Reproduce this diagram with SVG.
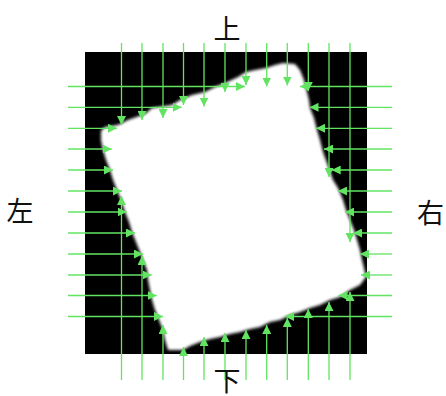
<svg xmlns="http://www.w3.org/2000/svg" width="446" height="396" viewBox="0 0 446 396">
<defs>
<style>
.g{stroke:#62e462;stroke-width:1.3;fill:none;marker-end:url(#ah)}
.lb{font-family:"Noto Sans CJK SC","Noto Sans CJK JP",sans-serif;font-size:27px;fill:#111;text-anchor:middle}
</style>
<marker id="ah" markerUnits="userSpaceOnUse" markerWidth="10" markerHeight="9" refX="9" refY="4.5" orient="auto" viewBox="0 0 10 9">
<path d="M0,0 L9,4.5 L0,9 z" fill="#62e462"/>
</marker>
<filter id="bl" x="-10%" y="-10%" width="120%" height="120%">
<feGaussianBlur stdDeviation="1.6"/>
</filter>
</defs>
<rect id="background" width="446" height="396" fill="#fff"/>
<rect id="black-square" x="85" y="52" width="282" height="302" fill="#000"/>
<g id="white-shape" filter="url(#bl)">
<polygon fill="#fff" points="101,131 105,127 118,125 128,120 145,114 152,108 172,105 180,100 192,95 205,92 215,87 225,83 238,77 246,72 255,70 266,68 275,65 283,63 295,64 300,70 304,80 306,88 309,100 310,108 314,118 317,130 320,140 323,152 327,163 333,180 338,188 343,200 346,210 350,220 354,230 357,240 360,250 362,260 364,268 366,277 360,285 350,290 340,297 330,300 320,305 310,308 300,312 290,315 280,320 270,322 260,327 250,329 240,332 230,334 220,337 210,339 200,342 190,346 183,350 168,350 165,340 163,330 159,320 155,310 152,300 150,290 148,280 147,270 143,260 140,252 136,242 132,232 129,222 125,212 121,200 117,190 113,180 110,170 106,160 103,150 101,140"/>
</g>
<g id="connectors">
<line class="g" x1="121.5" y1="43" x2="121.5" y2="125"/>
<line class="g" x1="121.5" y1="380" x2="121.5" y2="196"/>
<line class="g" x1="142" y1="43" x2="142" y2="120"/>
<line class="g" x1="142" y1="380" x2="142" y2="256"/>
<line class="g" x1="163" y1="43" x2="163" y2="118"/>
<line class="g" x1="163" y1="380" x2="163" y2="325"/>
<line class="g" x1="183.5" y1="43" x2="183.5" y2="105"/>
<line class="g" x1="183.5" y1="380" x2="183.5" y2="347"/>
<line class="g" x1="204" y1="43" x2="204" y2="106.5"/>
<line class="g" x1="204" y1="380" x2="204" y2="337"/>
<line class="g" x1="225" y1="43" x2="225" y2="92"/>
<line class="g" x1="225" y1="380" x2="225" y2="333"/>
<line class="g" x1="246" y1="43" x2="246" y2="85"/>
<line class="g" x1="246" y1="380" x2="246" y2="330"/>
<line class="g" x1="266.7" y1="43" x2="266.7" y2="86.5"/>
<line class="g" x1="266.7" y1="380" x2="266.7" y2="325"/>
<line class="g" x1="287.3" y1="43" x2="287.3" y2="85.5"/>
<line class="g" x1="287.3" y1="380" x2="287.3" y2="318"/>
<line class="g" x1="308.3" y1="43" x2="308.3" y2="91"/>
<line class="g" x1="308.3" y1="380" x2="308.3" y2="309"/>
<line class="g" x1="329" y1="43" x2="329" y2="177"/>
<line class="g" x1="329" y1="380" x2="329" y2="302"/>
<line class="g" x1="350" y1="43" x2="350" y2="242"/>
<line class="g" x1="350" y1="380" x2="350" y2="292"/>
<line class="g" x1="68" y1="86.5" x2="245" y2="86.5"/>
<line class="g" x1="392" y1="86.5" x2="300" y2="86.5"/>
<line class="g" x1="68" y1="107.3" x2="181.7" y2="107.3"/>
<line class="g" x1="392" y1="107.3" x2="309.5" y2="107.3"/>
<line class="g" x1="68" y1="128.3" x2="117" y2="128.3"/>
<line class="g" x1="392" y1="128.3" x2="316" y2="128.3"/>
<line class="g" x1="68" y1="149" x2="111.7" y2="149"/>
<line class="g" x1="392" y1="149" x2="324" y2="149"/>
<line class="g" x1="68" y1="170" x2="113" y2="170"/>
<line class="g" x1="392" y1="170" x2="331.7" y2="170"/>
<line class="g" x1="68" y1="191" x2="122" y2="191"/>
<line class="g" x1="392" y1="191" x2="338" y2="191"/>
<line class="g" x1="68" y1="212" x2="126.7" y2="212"/>
<line class="g" x1="392" y1="212" x2="345" y2="212"/>
<line class="g" x1="68" y1="233" x2="135" y2="233"/>
<line class="g" x1="392" y1="233" x2="353" y2="233"/>
<line class="g" x1="68" y1="254" x2="143" y2="254"/>
<line class="g" x1="392" y1="254" x2="360" y2="254"/>
<line class="g" x1="68" y1="275" x2="151.7" y2="275"/>
<line class="g" x1="392" y1="275" x2="361" y2="275"/>
<line class="g" x1="68" y1="295.5" x2="156.7" y2="295.5"/>
<line class="g" x1="392" y1="295.5" x2="338.5" y2="295.5"/>
<line class="g" x1="68" y1="316.5" x2="163" y2="316.5"/>
<line class="g" x1="392" y1="316.5" x2="285" y2="316.5"/>
</g>
<g id="labels">
<text id="label-top" class="lb" x="227" y="39">上</text>
<text id="label-bottom" class="lb" x="227" y="391">下</text>
<text id="label-left" class="lb" x="20" y="221">左</text>
<text id="label-right" class="lb" x="430.5" y="223">右</text>
</g>
</svg>
